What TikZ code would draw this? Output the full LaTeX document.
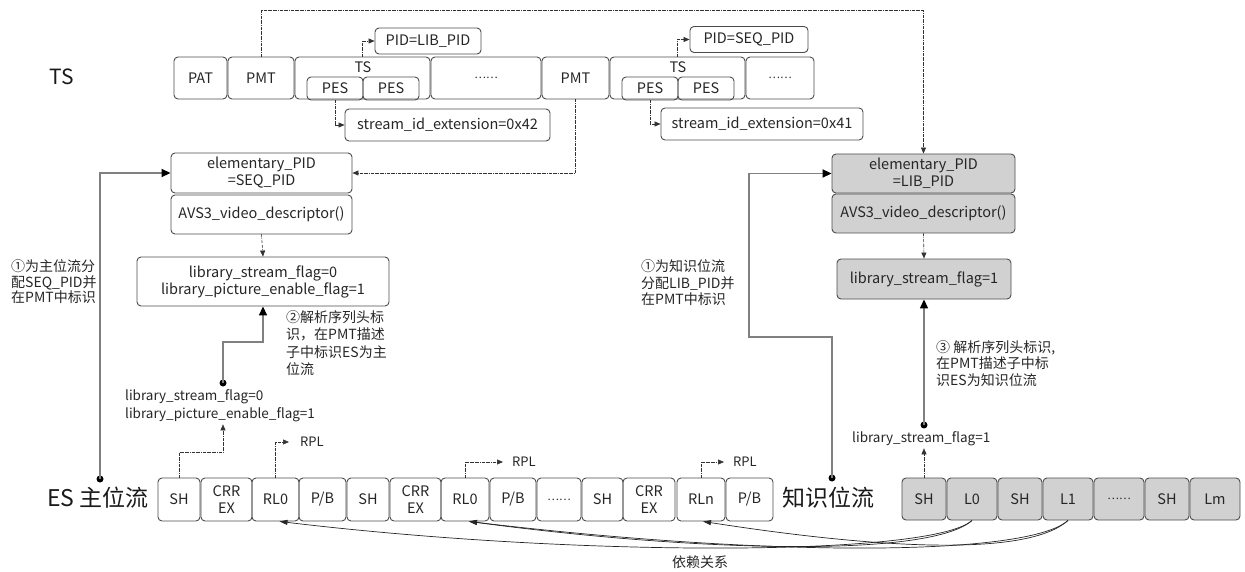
\documentclass[tikz,border=0pt]{standalone}
\usepackage{fontspec}
\setmainfont{Noto Sans CJK SC}
\usetikzlibrary{arrows.meta}

\tikzset{
  box/.style={draw=black!70, rounded corners=4pt, line width=0.9pt, text=black!85,
    font=\fontsize{14.5}{16}\selectfont, inner sep=1pt, align=center},
  libbox/.style={box, fill=black!18},
  dd/.style={densely dash dot, line width=0.6pt, draw=black!80, -{Triangle[length=6pt,width=5pt]}},
  thk/.style={draw=black!50, line width=1.8pt, -{Triangle[length=9pt,width=8pt,color=black]}},
  dep/.style={draw=black!85, line width=0.7pt, -{Triangle[length=8pt,width=5pt]}},
  dot/.style={circle, fill=black, inner sep=0pt, minimum size=7pt},
  note/.style={anchor=west, align=left, text=black!85, inner sep=0pt},
  lbl/.style={anchor=west, align=left, text=black!85, inner sep=2pt, font=\fontsize{13.5}{18}\selectfont},
  big/.style={text=black!90, inner sep=0pt, font=\fontsize{23}{25}\selectfont},
}
\newcommand{\etc}{{\fontsize{11}{12}\selectfont ……}}

\begin{document}
\begin{tikzpicture}[x=1pt, y=-1pt]
\useasboundingbox (0,0) rectangle (1245,572);

% transport stream
\node[big, font=\fontsize{21}{23}\selectfont] (tslabel) at (62,77) {TS};
\node[box, minimum width=53pt, minimum height=42pt] (pat) at (200.5,78) {PAT};
\node[box, minimum width=66pt, minimum height=42pt] (pmta) at (261,78) {PMT};
\node[box, minimum width=135pt, minimum height=42pt] (tsa) at (362.5,78) {};
\node[box, minimum width=110pt, minimum height=42pt] (dotsa) at (486,78) {\etc};
\node[box, minimum width=67pt, minimum height=42pt] (pmtb) at (575.5,78) {PMT};
\node[box, minimum width=135pt, minimum height=42pt] (tsb) at (677.5,78) {};
\node[box, minimum width=68pt, minimum height=42pt] (dotsb) at (780,78) {\etc};

\node[text=black!85, font=\fontsize{14.5}{16}\selectfont, inner sep=0pt] (tsat) at (363,67) {TS};
\node[box, minimum width=56pt, minimum height=23pt] (pesa1) at (335,88.5) {PES};
\node[box, minimum width=56pt, minimum height=23pt] (pesa2) at (391,88.5) {PES};
\node[text=black!85, font=\fontsize{14.5}{16}\selectfont, inner sep=0pt] (tsbt) at (678,67) {TS};
\node[box, minimum width=56pt, minimum height=23pt] (pesb1) at (650,88.5) {PES};
\node[box, minimum width=56pt, minimum height=23pt] (pesb2) at (706,88.5) {PES};

\node[box, minimum width=106pt, minimum height=26pt] (pidlib) at (428,41) {PID=LIB\_PID};
\node[box, minimum width=118pt, minimum height=26pt] (pidseq) at (749,39.5) {PID=SEQ\_PID};
\node[box, minimum width=205pt, minimum height=32pt] (sida) at (447.5,125) {stream\_id\_extension=0x42};
\node[box, minimum width=202pt, minimum height=32pt] (sidb) at (762,124) {stream\_id\_extension=0x41};

% descriptors in the PMT
\node[box, minimum width=181pt, minimum height=40pt, font=\fontsize{14.5}{17}\selectfont] (seqes) at (261.5,173) {elementary\_PID\\=SEQ\_PID};
\node[box, minimum width=181pt, minimum height=39pt] (avsa) at (261.5,214.5) {AVS3\_video\_descriptor()};
\node[box, minimum width=252pt, minimum height=49pt, font=\fontsize{14.5}{17}\selectfont] (flaga) at (263,281.5) {library\_stream\_flag=0\\library\_picture\_enable\_flag=1};
\node[libbox, minimum width=183pt, minimum height=39pt, font=\fontsize{14.5}{17}\selectfont] (libes) at (923.5,173.5) {elementary\_PID\\=LIB\_PID};
\node[libbox, minimum width=183pt, minimum height=39pt] (avsb) at (923.5,213.5) {AVS3\_video\_descriptor()};
\node[libbox, minimum width=174pt, minimum height=40pt] (flagb) at (924,279) {library\_stream\_flag=1};

% notes
\node[note, font=\fontsize{14}{15.5}\selectfont] (notea) at (11,282) {①为主位流分\\配SEQ\_PID并\\在PMT中标识};
\node[note, font=\fontsize{14}{16.5}\selectfont] (noteb) at (641,283) {①为知识位流\\分配LIB\_PID并\\在PMT中标识};
\node[note, font=\fontsize{14}{17.3}\selectfont] (notec) at (286,343) {②解析序列头标\\识，在PMT描述\\子中标识ES为主\\位流};
\node[note, font=\fontsize{14}{16.5}\selectfont] (noted) at (936,363.5) {③ 解析序列头标识,\\在PMT描述子中标\\识ES为知识位流};
\node[lbl] (flagtxta) at (123,406) {library\_stream\_flag=0\\library\_picture\_enable\_flag=1};
\node[lbl] (flagtxtb) at (850,439) {library\_stream\_flag=1};

% elementary streams
\node[big] (eslabel) at (98,498) {ES 主位流};
\node[big] (kslabel) at (828,498) {知识位流};

\node[box, minimum width=42pt, minimum height=43pt] (esa1) at (179,499.5) {SH};
\node[box, minimum width=51pt, minimum height=43pt, font=\fontsize{14.5}{17}\selectfont] (esa2) at (226.5,499.5) {CRR\\EX};
\node[box, minimum width=47pt, minimum height=43pt] (esa3) at (275.5,499.5) {RL0};
\node[box, minimum width=47pt, minimum height=43pt] (esa4) at (322.5,499.5) {P/B};
\node[box, minimum width=42pt, minimum height=43pt] (esa5) at (368,499.5) {SH};
\node[box, minimum width=51pt, minimum height=43pt, font=\fontsize{14.5}{17}\selectfont] (esa6) at (415.5,499.5) {CRR\\EX};
\node[box, minimum width=48pt, minimum height=43pt] (esa7) at (465,499.5) {RL0};
\node[box, minimum width=46pt, minimum height=43pt] (esa8) at (513,499.5) {P/B};
\node[box, minimum width=44pt, minimum height=43pt] (esa9) at (559,499.5) {\etc};
\node[box, minimum width=41pt, minimum height=43pt] (esa10) at (602.5,499.5) {SH};
\node[box, minimum width=52pt, minimum height=43pt, font=\fontsize{14.5}{17}\selectfont] (esa11) at (649,499.5) {CRR\\EX};
\node[box, minimum width=48pt, minimum height=43pt] (esa12) at (701,499.5) {RLn};
\node[box, minimum width=47pt, minimum height=43pt] (esa13) at (749.5,499.5) {P/B};

\node[libbox, minimum width=44pt, minimum height=42pt] (kb1) at (924,499) {SH};
\node[libbox, minimum width=50pt, minimum height=42pt] (kb2) at (972,499) {L0};
\node[libbox, minimum width=44pt, minimum height=42pt] (kb3) at (1020,499) {SH};
\node[libbox, minimum width=50pt, minimum height=42pt] (kb4) at (1068,499) {L1};
\node[libbox, minimum width=50pt, minimum height=42pt] (kb5) at (1119,499) {\etc};
\node[libbox, minimum width=44pt, minimum height=42pt] (kb6) at (1167,499) {SH};
\node[libbox, minimum width=50pt, minimum height=42pt] (kb7) at (1215,499) {Lm};

\node[lbl, font=\fontsize{13}{15}\selectfont, inner xsep=11pt] (rpla) at (289,442) {RPL};
\node[lbl, font=\fontsize{13}{15}\selectfont, inner xsep=9pt] (rplb) at (503,462) {RPL};
\node[lbl, font=\fontsize{13}{15}\selectfont, inner xsep=9pt] (rplc) at (724,462) {RPL};
\node[text=black!85, font=\fontsize{14}{16}\selectfont] (deptxt) at (700,562) {依赖关系};

\node[dot] (esdot) at (100,479) {};
\node[dot] (ksdot) at (832,478) {};
\node[dot] (flagdot) at (223,383) {};
\node[dot] (libdot) at (924,425) {};

% dash dot links
\draw[dd] (pmta.north) -- ++(0,-46) -| (libes.north);
\draw[dd] (tsa.north) |- (pidlib.west);
\draw[dd] (tsb.north) |- (pidseq.west);
\draw[dd] (pesa1.south) |- (sida.west);
\draw[dd] (pesb1.south) |- (sidb.west);
\draw[dd] (pmtb.south) |- (seqes.east);
\draw[dd] (avsa.south) -- (flaga.north);
\draw[dd] (avsb.south) -- (flagb.north);
\draw[dd] (esa1.north) -- ++(0,-25) -| (flagdot |- flagtxta.south);
\draw[dd] (kb1.north) -- (libdot |- flagtxtb.south);
\draw[dd] (esa3.north) |- (rpla.west);
\draw[dd] (esa7.north) |- (rplb.west);
\draw[dd] (esa12.north) |- (rplc.west);

% thick links
\draw[thk] (esdot.center) |- (seqes.west);
\draw[thk] (ksdot.center) -- ++(0,-141) -- ++(-83,0) |- (libes.west);
\draw[thk] (flagdot.center) -- ++(0,-41) -| (flaga.south);
\draw[thk, line width=1.3pt] (libdot.center) -- (flagb.south);

% dependency
\draw[dep] (kb2.south) .. controls +(-40,36) and +(300,36) .. ([xshift=4pt]esa3.south);
\draw[dep] (kb2.south) .. controls +(-40,36) and +(240,32) .. ([xshift=4pt]esa7.south);
\draw[dep] (kb4.south) .. controls +(-40,36) and +(180,28) .. ([xshift=2pt]esa12.south);
\draw[dep] (kb4.south) .. controls +(-40,36) and +(300,36) .. ([xshift=4pt]esa7.south);
\end{tikzpicture}
\end{document}
